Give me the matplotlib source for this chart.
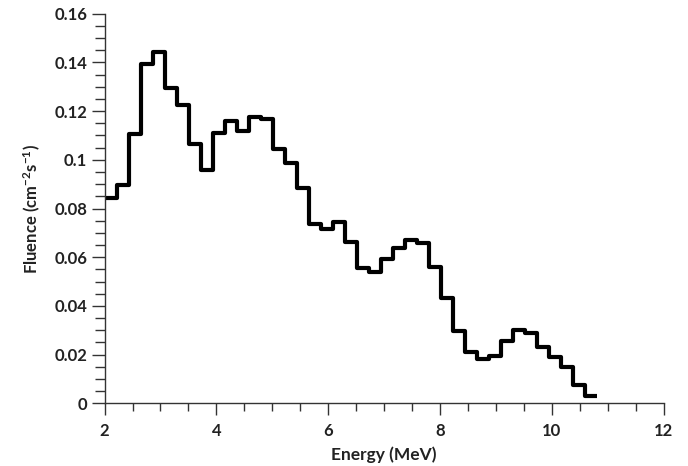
import numpy as np
import matplotlib
matplotlib.use("Agg")
import matplotlib.pyplot as plt
from matplotlib.ticker import MultipleLocator, FuncFormatter

# Neutron fluence spectrum, 41 energy bins between 2.0 and 10.8 MeV
e_min, e_max = 2.0, 10.8
fluence = [
    0.0844, 0.0897, 0.1106, 0.1393, 0.1443, 0.1294, 0.1225, 0.1064, 0.0958,
    0.1109, 0.1159, 0.1120, 0.1177, 0.1166, 0.1043, 0.0988, 0.0883, 0.0736,
    0.0715, 0.0746, 0.0664, 0.0554, 0.0540, 0.0591, 0.0636, 0.0671, 0.0657,
    0.0561, 0.0431, 0.0297, 0.0212, 0.0181, 0.0194, 0.0257, 0.0301, 0.0290,
    0.0230, 0.0189, 0.0148, 0.0075, 0.0030,
]
edges = np.linspace(e_min, e_max, len(fluence) + 1)

x_ticks = [2, 4, 6, 8, 10, 12]
y_ticks = [0, 0.02, 0.04, 0.06, 0.08, 0.1, 0.12, 0.14, 0.16]

plt.rcParams["font.family"] = ["Lato", "DejaVu Sans"]
plt.rcParams["mathtext.fontset"] = "custom"
plt.rcParams["mathtext.rm"] = "Lato:bold"
plt.rcParams["mathtext.it"] = "Lato:bold"
plt.rcParams["mathtext.bf"] = "Lato:bold"

fig = plt.figure(figsize=(6.88, 4.66), dpi=100)
ax = fig.add_axes([0.152, 0.1345, 0.8127, 0.836])

ax.stairs(fluence, edges, baseline=None, color="black", linewidth=3.0,
          joinstyle="round")

ax.set_xlim(2, 12)
ax.set_ylim(0, 0.16)
ax.set_xticks(x_ticks)
ax.set_yticks(y_ticks)
ax.xaxis.set_minor_locator(MultipleLocator(0.5))
ax.yaxis.set_minor_locator(MultipleLocator(0.005))
ax.yaxis.set_major_formatter(FuncFormatter(lambda v, p: f"{v:g}"))

for s in ("top", "right"):
    ax.spines[s].set_visible(False)
for s in ("left", "bottom"):
    ax.spines[s].set_linewidth(1.0)
    ax.spines[s].set_color("#333333")

ax.tick_params(axis="x", which="major", length=8.5, width=1.0, color="#333333",
               pad=6, labelsize=12)
ax.tick_params(axis="x", which="minor", length=5.5, width=1.0, color="#333333")
ax.tick_params(axis="y", which="major", length=9.5, width=1.0, color="#333333",
               pad=3, labelsize=12)
ax.tick_params(axis="y", which="minor", length=7, width=1.0, color="#333333")
for lab in ax.get_xticklabels() + ax.get_yticklabels():
    lab.set_fontweight("bold")
    lab.set_color("#222222")

ax.set_xlabel("Energy (MeV)", fontsize=12.5, fontweight="bold", color="#222222",
              labelpad=5)
ax.set_ylabel(r"Fluence (cm$^{-2}$s$^{-1}$)", fontsize=12, fontweight="bold",
              color="#222222", labelpad=8)

fig.savefig("out.png", dpi=100)
